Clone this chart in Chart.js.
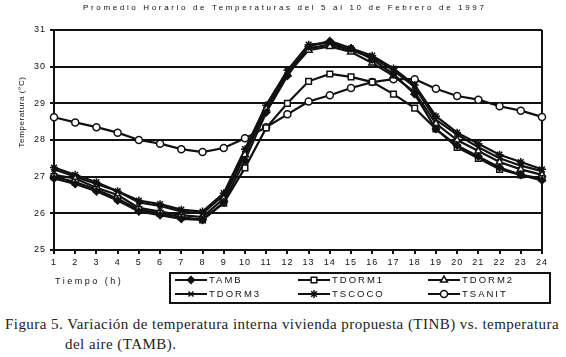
<!DOCTYPE html>
<html>
<head>
<meta charset="utf-8">
<script src="https://cdn.jsdelivr.net/npm/chart.js@4"></script>
<style>
  body { margin: 0; background: #fff; width: 566px; height: 357px; position: relative; overflow: hidden; }
  #wrap { position: absolute; left: 0; top: 0; width: 566px; height: 310px; }
  .cap { position: absolute; font-family: 'Liberation Serif', serif; font-size: 15px; letter-spacing: 0.45px; color: #222; white-space: nowrap; }
</style>
</head>
<body>
<div id="wrap"><canvas id="tempChart" width="566" height="310"></canvas></div>
<div class="cap" style="left:5px; top:316px;">Figura 5. Variación de temperatura interna vivienda propuesta (TINB) vs. temperatura</div>
<div class="cap" style="left:65px; top:336px;">del aire (TAMB).</div>
<script>
// horas del dia
const horas = ['1','2','3','4','5','6','7','8','9','10','11','12','13','14','15','16','17','18','19','20','21','22','23','24'];

// temperaturas promedio (°C)
const tamb   = [26.95, 26.8, 26.6, 26.35, 26.05, 25.95, 25.85, 25.82, 26.3, 27.45, 28.75, 29.75, 30.55, 30.7, 30.5, 30.2, 29.8, 29.25, 28.3, 27.85, 27.55, 27.25, 27.05, 26.9];
const tdorm1 = [27.0, 26.85, 26.65, 26.4, 26.1, 26.0, 25.9, 25.82, 26.28, 27.24, 28.33, 29.0, 29.6, 29.8, 29.72, 29.58, 29.25, 28.87, 28.3, 27.8, 27.5, 27.2, 27.05, 26.95];
const tdorm2 = [27.05, 26.95, 26.7, 26.5, 26.15, 26.05, 25.95, 25.9, 26.4, 27.6, 28.85, 29.8, 30.45, 30.55, 30.4, 30.1, 29.75, 29.3, 28.45, 28.0, 27.7, 27.4, 27.2, 27.05];
const tdorm3 = [27.2, 27.0, 26.8, 26.6, 26.3, 26.2, 26.05, 26.0, 26.5, 27.7, 28.95, 29.85, 30.5, 30.6, 30.45, 30.25, 29.9, 29.45, 28.55, 28.15, 27.8, 27.5, 27.3, 27.15];
const tscoco = [27.25, 27.05, 26.85, 26.6, 26.35, 26.25, 26.1, 26.05, 26.55, 27.75, 28.95, 29.9, 30.6, 30.65, 30.5, 30.3, 29.95, 29.5, 28.65, 28.2, 27.9, 27.6, 27.4, 27.2];
const tsanit = [28.62, 28.48, 28.35, 28.2, 28.0, 27.9, 27.75, 27.67, 27.78, 28.05, 28.35, 28.7, 29.05, 29.22, 29.42, 29.58, 29.66, 29.66, 29.4, 29.2, 29.1, 28.92, 28.8, 28.63];

const FONT = "'Liberation Sans', Arial, sans-serif";

function serie(label, data, style, fill, radius) {
  return {
    label: label,
    data: data,
    borderColor: '#111',
    borderWidth: 2.2,
    pointStyle: style,
    pointRadius: radius,
    pointBorderWidth: 1.5,
    pointBorderColor: '#111',
    pointBackgroundColor: fill,
    fill: false,
    tension: 0
  };
}

// texto espaciado como en el original
const espaciado = {
  id: 'espaciado',
  beforeUpdate(chart) { chart.ctx.letterSpacing = '1px'; },
  beforeDraw(chart) { chart.ctx.letterSpacing = '1px'; }
};

// titulo, etiqueta del eje y, leyenda con marco
const extras = {
  id: 'extras',
  afterDraw(chart) {
    const ctx = chart.ctx;
    ctx.save();
    ctx.fillStyle = '#111';
    ctx.strokeStyle = '#111';

    ctx.letterSpacing = '2.65px';
    ctx.font = '8px ' + FONT;
    ctx.textAlign = 'left';
    ctx.textBaseline = 'middle';
    ctx.fillText('Promedio Horario de Temperaturas del 5 al 10 de Febrero de 1997', 83, 8);

    ctx.save();
    ctx.letterSpacing = '0.6px';
    ctx.translate(22, 112);
    ctx.rotate(-Math.PI / 2);
    ctx.textAlign = 'center';
    ctx.fillText('Temperatura (°C)', 0, 0);
    ctx.restore();

    ctx.letterSpacing = '2.5px';
    ctx.font = '9px ' + FONT;
    ctx.textAlign = 'left';
    ctx.fillText('Tiempo (h)', 55, 282);

    ctx.lineWidth = 2;
    ctx.strokeRect(170, 273, 380, 30);

    const cols = [175, 298, 428];
    const rows = [280, 294];
    chart.data.datasets.forEach((ds, i) => {
      const x = cols[i % 3];
      const y = rows[Math.floor(i / 3)];
      ctx.lineWidth = 2;
      ctx.beginPath();
      ctx.moveTo(x, y);
      ctx.lineTo(x + 32, y);
      ctx.stroke();
      ctx.fillStyle = ds.pointBackgroundColor;
      ctx.lineWidth = 1.5;
      Chart.helpers.drawPoint(ctx, { pointStyle: ds.pointStyle, radius: ds.pointRadius, borderWidth: 1.5, rotation: 0 }, x + 16, y);
      ctx.fillStyle = '#111';
      ctx.letterSpacing = '2px';
      ctx.font = '9.5px ' + FONT;
      ctx.fillText(ds.label, x + 34, y);
    });
    ctx.restore();
  }
};

new Chart(document.getElementById('tempChart').getContext('2d'), {
  type: 'line',
  data: {
    labels: horas,
    datasets: [
      serie('TAMB', tamb, 'rectRot', '#111', 3.5),
      serie('TDORM1', tdorm1, 'rect', '#fff', 4),
      serie('TDORM2', tdorm2, 'triangle', '#fff', 4),
      serie('TDORM3', tdorm3, 'crossRot', '#111', 3.5),
      serie('TSCOCO', tscoco, 'star', '#111', 4),
      serie('TSANIT', tsanit, 'circle', '#fff', 3.5)
    ]
  },
  options: {
    responsive: false,
    animation: false,
    layout: { padding: { top: 30, left: 0, right: 24, bottom: 40 } },
    plugins: {
      legend: { display: false },
      title: { display: false },
      tooltip: { enabled: false }
    },
    scales: {
      x: {
        offset: false,
        afterFit(scale) { scale.height = 20; },
        grid: {
          color: (c) => c.index === horas.length - 1 ? '#111' : 'rgba(0,0,0,0)',
          lineWidth: 2,
          tickColor: '#111',
          tickLength: 4
        },
        border: { color: '#111', width: 2 },
        ticks: { color: '#111', font: { family: FONT, size: 9 }, padding: 3, maxRotation: 0, autoSkip: false }
      },
      y: {
        min: 25,
        max: 31,
        afterFit(scale) { scale.width = 54; },
        grid: { color: '#111', lineWidth: 2, tickColor: '#111', tickLength: 4 },
        border: { color: '#111', width: 2 },
        ticks: { stepSize: 1, color: '#111', font: { family: FONT, size: 9 }, padding: 4 }
      }
    }
  },
  plugins: [espaciado, extras]
});
</script>
</body>
</html>
